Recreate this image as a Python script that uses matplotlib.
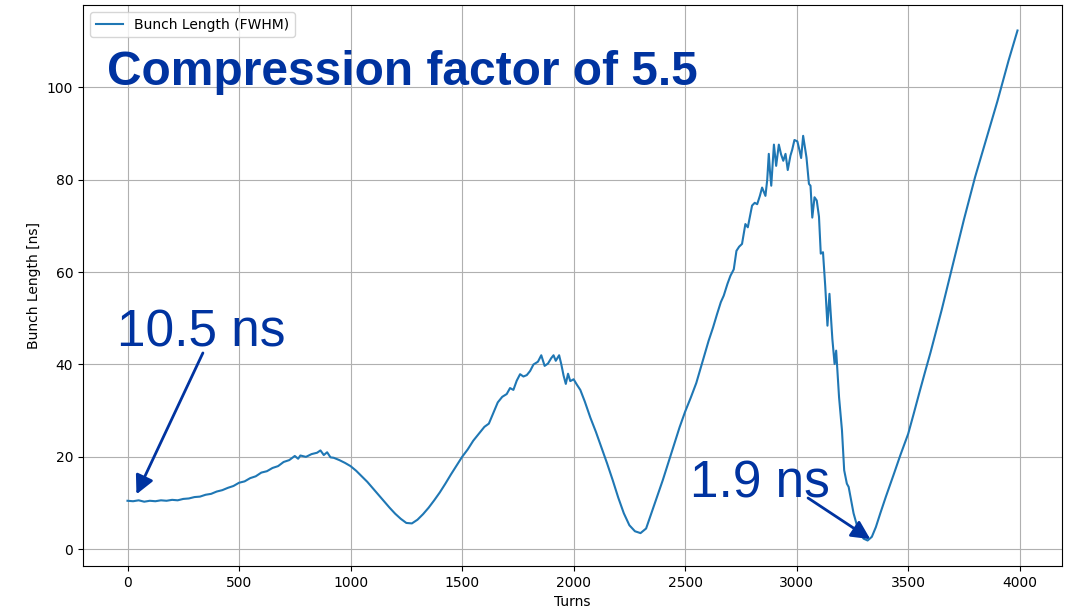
import matplotlib
matplotlib.use('Agg')
import matplotlib.pyplot as plt

# bunch length (FWHM) vs turn number
turns = [
    0, 25, 50, 75, 100, 125, 150, 175, 200, 225, 250, 275, 300, 325, 350, 375,
    400, 425, 450, 475, 500, 525, 550, 575, 600, 625, 650, 675, 700, 725, 750,
    765, 775, 800, 825, 850, 865, 880, 895, 910, 925, 950, 975, 1000, 1025,
    1050, 1075, 1100, 1125, 1150, 1175, 1200, 1225, 1250, 1275, 1300, 1325,
    1350, 1375, 1400, 1425, 1450, 1475, 1500, 1525, 1550, 1575, 1600, 1620,
    1640, 1660, 1680, 1700, 1715, 1730, 1745, 1760, 1775, 1790, 1805, 1820,
    1840, 1855, 1870, 1885, 1900, 1910, 1920, 1935, 1945, 1955, 1965, 1975,
    1985, 2000, 2015, 2030, 2050, 2075, 2100, 2125, 2150, 2175, 2200, 2225,
    2250, 2275, 2300, 2325, 2350, 2375, 2400, 2425, 2450, 2475, 2500, 2525,
    2550, 2575, 2590, 2605, 2625, 2643, 2660, 2673, 2690, 2703, 2718, 2730,
    2742, 2755, 2770, 2781, 2800, 2812, 2823, 2835, 2845, 2860, 2868, 2875,
    2880, 2886, 2898, 2908, 2920, 2930, 2940, 2950, 2960, 2972, 2980, 2990,
    3003, 3012, 3020, 3029, 3044, 3055, 3062, 3070, 3080, 3090, 3100, 3108,
    3118, 3128, 3138, 3147, 3160, 3170, 3177, 3190, 3203, 3213, 3225, 3233,
    3255, 3270, 3285, 3300, 3318, 3337, 3355, 3375, 3400, 3435, 3465, 3500,
    3525, 3550, 3575, 3600, 3650, 3700, 3750, 3800, 3850, 3900, 3950, 3990,
]
bunch_length = [
    10.5, 10.4, 10.6, 10.3, 10.5, 10.4, 10.6, 10.5, 10.7, 10.6, 10.9, 11.0,
    11.3, 11.4, 11.8, 12.0, 12.5, 12.8, 13.3, 13.7, 14.4, 14.7, 15.4, 15.8,
    16.6, 16.9, 17.6, 18.0, 18.9, 19.3, 20.2, 19.6, 20.3, 20.0, 20.6, 20.9,
    21.4, 20.4, 21.0, 19.9, 19.8, 19.3, 18.7, 18.0, 17.0, 15.8, 14.6, 13.2,
    11.8, 10.4, 9.0, 7.7, 6.6, 5.7, 5.6, 6.4, 7.6, 9.0, 10.6, 12.3, 14.2,
    16.2, 18.1, 20.0, 21.6, 23.5, 25.0, 26.5, 27.2, 29.5, 31.8, 33.0, 33.6,
    34.9, 34.5, 36.5, 37.9, 37.4, 37.7, 38.6, 40.0, 40.6, 42.0, 39.7, 40.2,
    41.4, 42.0, 40.8, 42.0, 40.0, 37.6, 35.8, 38.0, 36.4, 36.8, 35.6, 34.5,
    32.0, 28.5, 25.4, 22.0, 18.6, 15.0, 11.2, 7.8, 5.2, 3.9, 3.5, 4.5, 8.0,
    11.5, 15.0, 18.8, 22.6, 26.4, 29.8, 32.8, 36.0, 40.1, 42.6, 45.1, 48.0,
    50.9, 53.5, 54.9, 57.5, 59.2, 60.6, 64.6, 65.5, 66.1, 70.4, 69.7, 74.4,
    75.0, 74.7, 76.5, 78.3, 76.5, 80.0, 85.6, 82.0, 78.7, 87.6, 83.0, 87.6,
    85.5, 84.1, 85.6, 82.1, 85.2, 86.5, 88.6, 88.3, 86.5, 84.7, 89.5, 84.8,
    79.1, 78.7, 71.8, 76.2, 75.5, 72.0, 64.0, 64.3, 57.0, 48.4, 55.3, 45.5,
    40.1, 43.0, 32.9, 25.8, 17.1, 14.2, 13.5, 7.8, 5.2, 3.5, 2.3, 1.9, 2.7,
    4.8, 7.8, 11.4, 16.2, 20.4, 25.0, 29.4, 33.9, 38.3, 42.6, 51.8, 61.6,
    71.4, 80.6, 88.8, 97.0, 105.8, 112.3,
]

blue = '#0033a0'
fig = plt.figure(figsize=(10.74, 6.13), dpi=100)
ax = fig.add_axes([83/1074, 1-566/613, 979/1074, 561/613])
ax.plot(turns, bunch_length, label='Bunch Length (FWHM)')
ax.grid(True)
ax.set_xlabel('Turns')
ax.set_ylabel('Bunch Length [ns]')
ax.legend(loc='upper left')

ax.text(-94, 100.4, 'Compression factor of 5.5', color=blue,
        fontsize=34.5, fontweight='bold', family='Liberation Sans',
        va='baseline')
ax.annotate('', xy=(40, 11.9), xytext=(338, 42.5),
            arrowprops=dict(arrowstyle='-|>', color=blue, lw=2,
                            mutation_scale=28, shrinkA=0, shrinkB=0))
ax.text(-45, 43.8, '10.5 ns', color=blue, fontsize=37,
        family='Liberation Sans', va='baseline')
ax.annotate('', xy=(3330, 2.2), xytext=(3051, 11.1),
            arrowprops=dict(arrowstyle='-|>', color=blue, lw=2,
                            mutation_scale=28, shrinkA=0, shrinkB=0))
ax.text(2520, 11.3, '1.9 ns', color=blue, fontsize=37,
        family='Liberation Sans', va='baseline')

fig.savefig('out.png', dpi=100)
